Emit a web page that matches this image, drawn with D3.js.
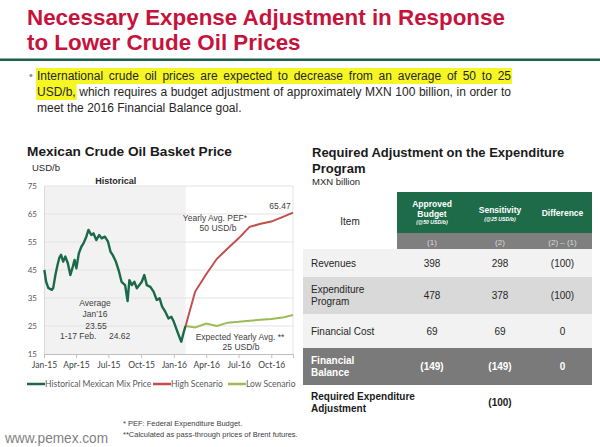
<!DOCTYPE html>
<html>
<head>
<meta charset="utf-8">
<script src="https://cdn.jsdelivr.net/npm/d3@7"></script>
<style>
  body { margin: 0; background: #fff; }
  svg { display: block; }
</style>
</head>
<body>
<div id="chart"></div>
<script>
// ---- data ----
const histDates = [
  '2015-01-02', '2015-01-07', '2015-01-13', '2015-01-23', '2015-01-27', '2015-02-02',
  '2015-02-08', '2015-02-13', '2015-02-18', '2015-02-24', '2015-03-02', '2015-03-09',
  '2015-03-16', '2015-03-23', '2015-03-28', '2015-04-02', '2015-04-09', '2015-04-16',
  '2015-04-22', '2015-04-30', '2015-05-06', '2015-05-14', '2015-05-20', '2015-05-28',
  '2015-06-05', '2015-06-12', '2015-06-21', '2015-06-30', '2015-07-07', '2015-07-13',
  '2015-07-22', '2015-07-31', '2015-08-07', '2015-08-17', '2015-08-24', '2015-08-29',
  '2015-09-05', '2015-09-12', '2015-09-19', '2015-09-26', '2015-10-03', '2015-10-10',
  '2015-10-17', '2015-10-27', '2015-11-05', '2015-11-14', '2015-11-22', '2015-11-29',
  '2015-12-08', '2015-12-17', '2015-12-25', '2016-01-01', '2016-01-11', '2016-01-18',
  '2016-01-22', '2016-01-28', '2016-02-01', '2016-02-03'
];
const histValues = [
  45.0, 40.8, 38.6, 37.9, 38.6, 43.2,
  46.8, 49.3, 50.4, 48.0, 49.8, 47.4,
  43.2, 46.2, 48.6, 45.6, 51.0, 53.3,
  54.5, 56.9, 59.3, 57.5, 58.1, 55.7,
  57.5, 56.3, 56.9, 55.1, 51.5, 50.4,
  48.0, 44.4, 40.8, 39.6, 33.9, 41.4,
  39.6, 40.8, 38.5, 39.6, 40.8, 43.2,
  39.6, 39.0, 37.3, 34.3, 34.9, 31.9,
  30.1, 27.7, 28.3, 26.5, 23.0, 20.6,
  19.4, 22.4, 24.2, 25.0
];
const scenarioDates = [
  '2016-02-03', '2016-03-01', '2016-04-01', '2016-05-01', '2016-06-01', '2016-07-01',
  '2016-08-01', '2016-09-01', '2016-10-01', '2016-11-01', '2016-12-01'
];
const highValues = [25.0, 37.3, 43.5, 49.0, 52.8, 56.3, 60.4, 61.5, 62.3, 63.9, 65.47];
const lowValues  = [25.0, 24.5, 25.9, 25.0, 26.2, 26.5, 26.9, 27.2, 27.5, 28.0, 28.9];
const yTicks = [15, 25, 35, 45, 55, 65, 75];

const legendLabels = ['Historical Mexican Mix Price', 'High Scenario', 'Low Scenario'];
const seriesColors = ['#1a6a4a', '#c0504d', '#9bbb59'];

const tableItems = [['Revenues'], ['Expenditure', 'Program'], ['Financial Cost'], ['Financial', 'Balance']];
const approvedCol = ['398', '478', '69', '(149)'];
const sensitivityCol = ['298', '378', '69', '(149)'];
const differenceCol = ['(100)', '(100)', '0', '0'];
const colNumbers = ['(1)', '(2)', '(2) \u2013 (1)'];
const requiredAdjustment = '(100)';

const bulletLines = [
  'International crude oil prices are expected to decrease from an average of 50 to 25',
  'USD/b, which requires a budget adjustment of approximately MXN 100 billion, in order to',
  'meet the 2016 Financial Balance goal.'
];

// ---- page ----
const W = 600, H = 447;
const SANS = '"Liberation Sans", Arial, sans-serif';
const CAL = 'Lato, "Open Sans", sans-serif';
const parse = d3.timeParse('%Y-%m-%d');

const svg = d3.select('#chart').append('svg').attr('width', W).attr('height', H);
svg.append('rect').attr('width', W).attr('height', H).attr('fill', '#fff');

// fit a text element to a width by scaling its font size
function fit(sel, width) {
  const w = sel.node().getComputedTextLength();
  const fs = parseFloat(sel.attr('font-size'));
  sel.attr('font-size', (fs * width / w).toFixed(2));
  return sel;
}

// title
const titleRed = '#c6133b';
const t1 = fit(svg.append('text').attr('x', 27).attr('y', 25).attr('font-family', SANS).attr('font-weight', 'bold')
  .attr('font-size', 21).attr('fill', titleRed).text('Necessary Expense Adjustment in Response'), 478);
svg.append('text').attr('x', 27).attr('y', 50).attr('font-family', SANS).attr('font-weight', 'bold')
  .attr('font-size', t1.attr('font-size')).attr('fill', titleRed).text('to Lower Crude Oil Prices');
svg.append('rect').attr('x', 0).attr('y', 58.5).attr('width', W).attr('height', 2.5).attr('fill', '#1f5f47');

// bullet paragraph, justified word by word
const bullet = svg.append('g');
bullet.append('text').attr('x', 29).attr('y', 79).attr('font-family', SANS).attr('font-size', 11)
  .attr('fill', '#8c8c8c').text('\u2022');
const highlightCounts = [Infinity, 1, 0];
bulletLines.forEach((line, li) => {
  const y = 80 + li * 16;
  const x0 = 37, x1 = 511;
  const words = line.split(' ');
  const lg = bullet.append('g');
  const texts = words.map(w => lg.append('text').attr('y', y).attr('font-family', SANS)
    .attr('font-size', 12).attr('fill', '#262626').text(w));
  const widths = texts.map(t => t.node().getComputedTextLength());
  const total = d3.sum(widths);
  const justify = li < bulletLines.length - 1;
  const gap = justify ? (x1 - x0 - total) / (words.length - 1) : 3.4;
  let x = x0;
  const xs = widths.map(w => { const cx = x; x += w + gap; return cx; });
  texts.forEach((t, i) => t.attr('x', xs[i]));
  const n = Math.min(highlightCounts[li], words.length);
  if (n > 0) {
    const hx1 = xs[n - 1] + widths[n - 1] + 1;
    lg.insert('rect', 'text').attr('x', x0 - 1).attr('y', y - 12).attr('width', hx1 - x0 + 1)
      .attr('height', 16).attr('fill', '#f6f625');
  }
});

// ---- left chart ----
const left = svg.append('g');
fit(left.append('text').attr('x', 27).attr('y', 156).attr('font-family', SANS).attr('font-weight', 'bold')
  .attr('font-size', 13).attr('fill', '#1a1a1a').text('Mexican Crude Oil Basket Price'), 205);
left.append('text').attr('x', 32).attr('y', 170.5).attr('font-family', SANS).attr('font-size', 9.5)
  .attr('fill', '#262626').text('USD/b');

const x = d3.scaleTime().domain([parse('2015-01-01'), parse('2016-12-01')]).range([44, 293]);
const y = d3.scaleLinear().domain([15, 75]).range([354, 186]);
const histEnd = parse(histDates[histDates.length - 1]);

left.append('rect').attr('x', x.range()[0]).attr('y', y(75)).attr('width', x(histEnd) - x.range()[0])
  .attr('height', y(15) - y(75)).attr('fill', '#f2f2f2');
left.append('text').attr('x', (x.range()[0] + x(histEnd)) / 2 + 1).attr('y', 183.5).attr('text-anchor', 'middle')
  .attr('font-family', SANS).attr('font-weight', 'bold').attr('font-size', 9).attr('fill', '#262626').text('Historical');

// grid
left.append('g').selectAll('line').data(yTicks.filter(t => t > 15)).join('line')
  .attr('x1', x.range()[0]).attr('x2', x.range()[1]).attr('y1', d => y(d)).attr('y2', d => y(d))
  .attr('stroke', '#e3e3e3').attr('stroke-width', 1);
left.append('line').attr('x1', x.range()[1]).attr('x2', x.range()[1]).attr('y1', y(75)).attr('y2', y(15))
  .attr('stroke', '#e3e3e3');

const yAxisG = left.append('g').attr('transform', `translate(${x.range()[0]},0)`)
  .call(d3.axisLeft(y).tickValues(yTicks).tickSize(0).tickPadding(7));
yAxisG.select('.domain').attr('stroke', '#d9d9d9');
yAxisG.selectAll('text').attr('font-family', CAL).attr('font-size', 8).attr('fill', '#595959');

const xAxisG = left.append('g').attr('transform', `translate(0,${y(15)})`)
  .call(d3.axisBottom(x).ticks(d3.timeMonth.every(3)).tickFormat(d3.timeFormat('%b-%y')).tickSize(4).tickPadding(4));
xAxisG.select('.domain').attr('stroke', '#bfbfbf');
xAxisG.selectAll('.tick line').attr('stroke', '#bfbfbf');
xAxisG.selectAll('text').attr('font-family', CAL).attr('font-size', 8.5).attr('fill', '#404040');

const line = d3.line().x(d => x(d[0])).y(d => y(d[1]));
const hist = histDates.map((d, i) => [parse(d), histValues[i]]);
const high = scenarioDates.map((d, i) => [parse(d), highValues[i]]);
const low = scenarioDates.map((d, i) => [parse(d), lowValues[i]]);
left.append('path').datum(low).attr('d', line).attr('fill', 'none').attr('stroke', seriesColors[2]).attr('stroke-width', 2);
left.append('path').datum(high).attr('d', line).attr('fill', 'none').attr('stroke', seriesColors[1]).attr('stroke-width', 2);
left.append('path').datum(hist).attr('d', line).attr('fill', 'none').attr('stroke', seriesColors[0])
  .attr('stroke-width', 2.4).attr('stroke-linejoin', 'round');

// annotations
const ann = (tx, ty, s, anchor = 'middle') => left.append('text').attr('x', tx).attr('y', ty)
  .attr('text-anchor', anchor).attr('font-family', SANS).attr('font-size', 8.5).attr('fill', '#404040').text(s);
ann(215, 220.5, 'Yearly Avg.  PEF*');
ann(218, 230.5, '50 USD/b');
ann(x(high[high.length - 1][0]) - 13, 208.5, d3.format('.2f')(highValues[highValues.length - 1]));
ann(95, 306, 'Average');
ann(95, 317, 'Jan\u201916');
ann(96, 328.5, '23.55');
ann(60, 339, '1-17 Feb.', 'start');
ann(109, 339, '24.62', 'start');
ann(240, 340, 'Expected Yearly Avg. **');
ann(241, 349.5, '25 USD/b');

// legend
const legend = left.append('g').attr('transform', 'translate(0,384)');
const legendX = [27, 153, 228];
legendLabels.forEach((lab, i) => {
  legend.append('line').attr('x1', legendX[i]).attr('x2', legendX[i] + 18).attr('stroke', seriesColors[i]).attr('stroke-width', 2.5);
  legend.append('text').attr('x', legendX[i] + 18).attr('y', 3).attr('font-family', CAL).attr('font-size', 8.5)
    .attr('fill', '#595959').text(lab);
});

// ---- right table ----
const right = svg.append('g');
const rtitle = right.append('text').attr('font-family', SANS).attr('font-weight', 'bold').attr('font-size', 13).attr('fill', '#1a1a1a');
rtitle.append('tspan').attr('x', 312).attr('y', 157).text('Required Adjustment on the Expenditure');
rtitle.append('tspan').attr('x', 312).attr('y', 173).text('Program');
right.append('text').attr('x', 312).attr('y', 185).attr('font-family', SANS).attr('font-size', 9.5).attr('fill', '#262626').text('MXN billion');

const colEdges = [303, 397, 467, 533, 592];
const colCenter = i => (colEdges[i] + colEdges[i + 1]) / 2;
const green = '#1e6b4a';
right.append('rect').attr('x', colEdges[1]).attr('y', 192).attr('width', colEdges[4] - colEdges[1]).attr('height', 41).attr('fill', green);
right.append('rect').attr('x', colEdges[1]).attr('y', 233).attr('width', colEdges[4] - colEdges[1]).attr('height', 16).attr('fill', '#7f7f7f');
right.append('text').attr('x', 350).attr('y', 225).attr('text-anchor', 'middle').attr('font-family', SANS)
  .attr('font-size', 10).attr('fill', '#262626').text('Item');

const hdr = (cx, cy, s, fs, italic) => right.append('text').attr('x', cx).attr('y', cy).attr('text-anchor', 'middle')
  .attr('font-family', SANS).attr('font-weight', 'bold').attr('font-style', italic ? 'italic' : 'normal')
  .attr('font-size', fs).attr('fill', '#fff').text(s);
hdr(colCenter(1), 207, 'Approved', 8.5);
hdr(colCenter(1), 217, 'Budget', 8.5);
hdr(colCenter(1), 224, '(@50 USD/b)', 5.2, true);
hdr(colCenter(2), 213, 'Sensitivity', 8.5);
hdr(colCenter(2), 221, '(@25 USD/b)', 5.2, true);
hdr(colCenter(3), 216, 'Difference', 8.5);
colNumbers.forEach((s, i) => right.append('text').attr('x', colCenter(i + 1)).attr('y', 244.5).attr('text-anchor', 'middle')
  .attr('font-family', SANS).attr('font-size', 8).attr('fill', '#d9d9d9').text(s));

const rowTops = [249, 277, 314, 348, 385];
const rowFill = ['#f2f2f2', '#d9d9d9', '#f2f2f2', '#7a7a7a'];
tableItems.forEach((item, i) => {
  const top = rowTops[i], bot = rowTops[i + 1], mid = (top + bot) / 2;
  const dark = i === 3;
  const fg = dark ? '#fff' : '#262626';
  const weight = dark ? 'bold' : 'normal';
  right.append('rect').attr('x', colEdges[0]).attr('y', top).attr('width', colEdges[4] - colEdges[0])
    .attr('height', bot - top).attr('fill', rowFill[i]);
  item.forEach((s, k) => right.append('text').attr('x', 311).attr('y', mid + 3.5 + (k - (item.length - 1) / 2) * 12)
    .attr('font-family', SANS).attr('font-size', 10).attr('font-weight', weight).attr('fill', fg).text(s));
  [approvedCol[i], sensitivityCol[i], differenceCol[i]].forEach((v, c) =>
    right.append('text').attr('x', colCenter(c + 1)).attr('y', mid + 3.5).attr('text-anchor', 'middle')
      .attr('font-family', SANS).attr('font-size', 10).attr('font-weight', weight).attr('fill', fg).text(v));
});
right.append('text').attr('x', 311).attr('y', 399.5).attr('font-family', SANS).attr('font-size', 10).attr('font-weight', 'bold')
  .attr('fill', '#1a1a1a').text('Required Expenditure');
right.append('text').attr('x', 311).attr('y', 411.5).attr('font-family', SANS).attr('font-size', 10).attr('font-weight', 'bold')
  .attr('fill', '#1a1a1a').text('Adjustment');
right.append('text').attr('x', colCenter(2)).attr('y', 406).attr('text-anchor', 'middle').attr('font-family', SANS)
  .attr('font-size', 10).attr('font-weight', 'bold').attr('fill', '#1a1a1a').text(requiredAdjustment);

// ---- footer ----
svg.append('text').attr('x', 123).attr('y', 426).attr('font-family', SANS).attr('font-size', 7.5).attr('fill', '#404040')
  .text('* PEF:  Federal Expenditure Budget.');
svg.append('text').attr('x', 123).attr('y', 437).attr('font-family', SANS).attr('font-size', 7.5).attr('fill', '#404040')
  .text('**Calculated as pass-through prices of Brent futures.');
svg.append('text').attr('x', 5).attr('y', 443).attr('font-family', SANS)
  .attr('font-size', 15).attr('fill', '#7f7f7f').attr('textLength', 103).attr('lengthAdjust', 'spacingAndGlyphs')
  .text('www.pemex.com');
</script>
</body>
</html>
